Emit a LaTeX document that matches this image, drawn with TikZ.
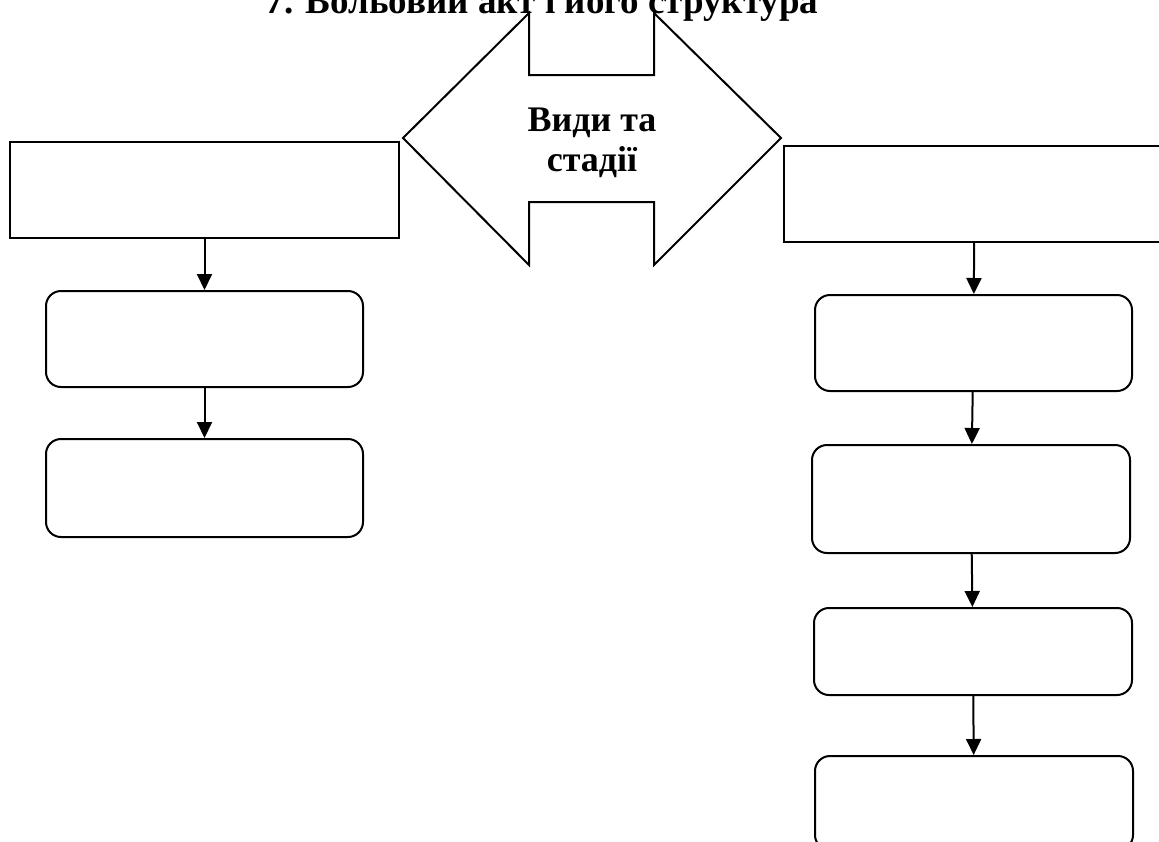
\documentclass[tikz,border=0pt]{standalone}
\usepackage{fontspec}
\setmainfont{Liberation Serif}
\usetikzlibrary{arrows.meta}

\begin{document}
\begin{tikzpicture}[x=1pt, y=-1pt,
    sqbox/.style={draw, line width=2pt, minimum width=389pt, minimum height=96pt, inner sep=0pt},
    rbox/.style={draw, line width=2pt, rounded corners=15pt, minimum width=317pt, minimum height=96pt, inner sep=0pt},
    link/.style={-{Triangle[length=16pt, width=15pt]}, line width=2pt},
]
\useasboundingbox (0,0) rectangle (1159,841);
\clip (0,0) rectangle (1159,841);
\node[anchor=base, font=\fontsize{37}{42}\selectfont\bfseries] (title) at (542,13) {7. Вольовий акт і його структура};
% double arrow in the middle
\draw[line width=2pt, line join=miter] (403,138) -- (529,13) -- (529,75) -- (654,75) -- (654,13) -- (781,138)
    -- (654,265) -- (654,202) -- (529,202) -- (529,265) -- cycle;
\node[align=center, font=\fontsize{36}{40}\selectfont\bfseries] (kinds) at (592,143) {Види та\\стадії};
% left column
\node[sqbox] (L0) at (204.5,190) {};
\node[rbox] (L1) at (204.5,339) {};
\node[rbox, minimum height=98pt] (L2) at (204.5,488) {};
\draw[link] (L0) -- (L1);
\draw[link] (L1) -- (L2);
% right column
\node[sqbox, minimum width=381pt] (R0) at (974.5,194) {};
\node[rbox] (R1) at (973.5,343) {};
\node[rbox, minimum width=318pt, minimum height=108pt] (R2) at (971,499) {};
\node[rbox, minimum width=318pt, minimum height=87pt] (R3) at (973,651.5) {};
\node[rbox, minimum width=318pt, minimum height=94pt] (R4) at (974,803) {};
\draw[link] (R0) -- (R1);
\draw[link] (R1) -- (R2);
\draw[link] (R2) -- (R3);
\draw[link] (R3) -- (R4);
\end{tikzpicture}
\end{document}
